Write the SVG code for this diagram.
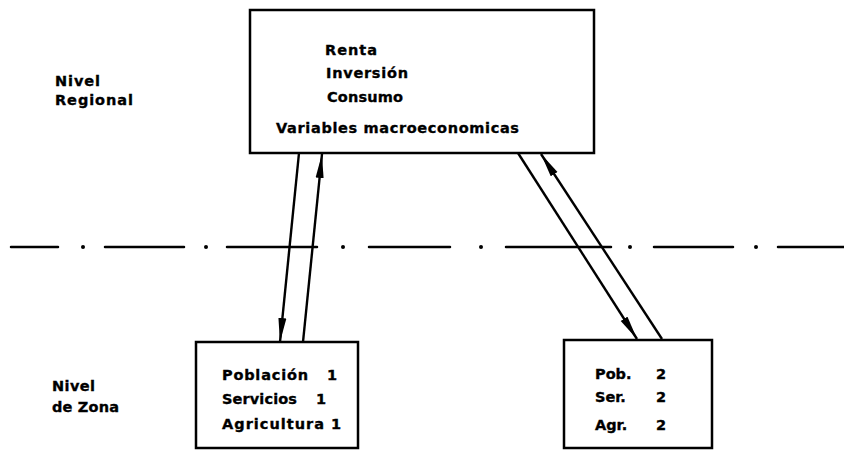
<svg xmlns="http://www.w3.org/2000/svg" width="844" height="452" viewBox="0 0 844 452">
  <style>
    .box { fill: #fff; stroke: #000; stroke-width: 2.5; }
    .lbl { font-family: "DejaVu Sans", "Liberation Sans", sans-serif; font-weight: bold; font-size: 14.5px; fill: #000; stroke: #000; stroke-width: 0.35; }
    .link { stroke: #000; stroke-width: 2.4; fill: none; marker-end: url(#head); }
    .axis { stroke: #000; stroke-width: 2.5; fill: none; stroke-linecap: round; }
    .dot { fill: #000; }
  </style>
  <defs>
    <marker id="head" viewBox="0 0 24 9" refX="24" refY="4.5" markerWidth="24" markerHeight="9" markerUnits="userSpaceOnUse" orient="auto">
      <path d="M0,0.5 L24,4.5 L0,8.5 Z" fill="#000"/>
    </marker>
  </defs>
  <rect width="844" height="452" fill="#fff"/>

  <!-- level boundary: dash-dot line -->
  <path class="axis" d="M11,247 H58 M105,247 H184 M227,247 H317 M369,247 H450 M506,247 H611 M654,247 H733 M778,247 H844"/>
  <g class="dot">
    <circle cx="83" cy="247" r="2"/>
    <circle cx="206" cy="247" r="2"/>
    <circle cx="343" cy="247" r="2"/>
    <circle cx="481" cy="247" r="2"/>
    <circle cx="630" cy="247" r="2"/>
    <circle cx="756" cy="247" r="2"/>
  </g>

  <!-- level labels -->
  <g id="level-regional">
    <text class="lbl" x="55" y="86" textLength="45">Nivel</text>
    <text class="lbl" x="55" y="105" textLength="78">Regional</text>
  </g>
  <g id="level-zona">
    <text class="lbl" x="52" y="391" textLength="43">Nivel</text>
    <text class="lbl" x="52" y="412" textLength="67">de Zona</text>
  </g>

  <!-- regional node -->
  <g id="regional">
    <rect class="box" x="250" y="10" width="344" height="143"/>
    <text class="lbl" x="325" y="55" textLength="52">Renta</text>
    <text class="lbl" x="326" y="78" textLength="82">Inversión</text>
    <text class="lbl" x="327" y="102" textLength="76">Consumo</text>
    <text class="lbl" x="276" y="133" textLength="243">Variables macroeconomicas</text>
  </g>

  <!-- zone 1 node -->
  <g id="zona1">
    <rect class="box" x="196" y="342" width="162" height="106"/>
    <text class="lbl" x="222" y="380" textLength="86">Población</text>
    <text class="lbl" x="327" y="380">1</text>
    <text class="lbl" x="222" y="404" textLength="75">Servicios</text>
    <text class="lbl" x="316" y="404">1</text>
    <text class="lbl" x="222" y="429" textLength="102">Agricultura</text>
    <text class="lbl" x="331" y="429">1</text>
  </g>

  <!-- zone 2 node -->
  <g id="zona2">
    <rect class="box" x="564" y="340" width="148" height="108"/>
    <text class="lbl" x="595" y="379">Pob.</text>
    <text class="lbl" x="656" y="379">2</text>
    <text class="lbl" x="595" y="402">Ser.</text>
    <text class="lbl" x="656" y="402">2</text>
    <text class="lbl" x="595" y="430">Agr.</text>
    <text class="lbl" x="656" y="430">2</text>
  </g>

  <!-- connectors -->
  <g id="connectors">
    <line class="link" x1="299" y1="153" x2="280" y2="342"/>
    <line class="link" x1="303" y1="342" x2="322" y2="154"/>
    <line class="link" x1="518" y1="153" x2="637" y2="339"/>
    <line class="link" x1="662" y1="339" x2="541" y2="154"/>
  </g>
</svg>
